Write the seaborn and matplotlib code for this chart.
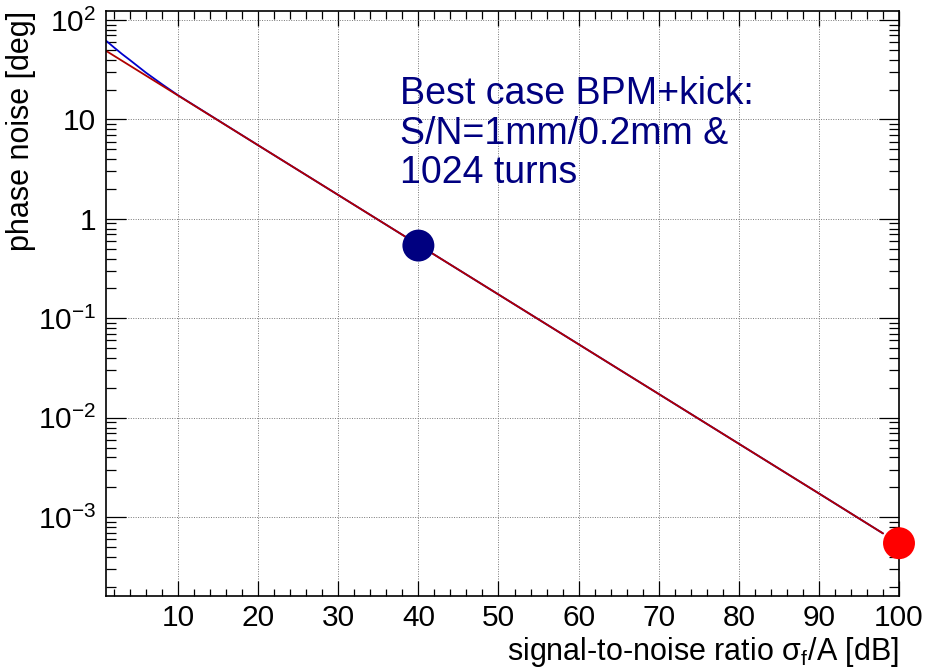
import numpy as np
import pandas as pd
import seaborn as sns
import matplotlib
matplotlib.use("Agg")
import matplotlib.pyplot as plt
from matplotlib.ticker import FixedLocator, FixedFormatter, MultipleLocator, LogLocator, NullFormatter

# values
snr_red = [1, 10, 20, 30, 40, 50, 60, 70, 80, 90, 98]
noise_red = [49.0, 17.4, 5.5, 1.74, 0.55, 0.174, 0.055, 0.0174, 0.0055, 0.00174, 0.00069]

snr_blue = [1, 2, 3, 4, 6, 8, 10, 20, 30, 40, 50, 60, 70, 80, 90, 98]
noise_blue = [62.0, 53.0, 45.5, 39.5, 29.5, 22.6, 17.5, 5.5, 1.74, 0.55, 0.174, 0.055, 0.0174, 0.0055, 0.00174, 0.00069]

pt_snr = [40, 100]
pt_noise = [0.54, 0.00055]
pt_names = ["BPM+kick", "limit"]

y_ticks = [1e-3, 1e-2, 1e-1, 1, 10, 100]
y_tick_labels = ["$10^{-3}$", "$10^{-2}$", "$10^{-1}$", "1", "10", "$10^{2}$"]

note = "Best case BPM+kick:\nS/N=1mm/0.2mm &\n1024 turns"

sns.set_style("ticks")
plt.rcParams["font.family"] = ["Liberation Sans", "DejaVu Sans"]
plt.rcParams["mathtext.fontset"] = "custom"
plt.rcParams["mathtext.rm"] = "Liberation Sans"
plt.rcParams["mathtext.it"] = "Liberation Sans:italic"
plt.rcParams["mathtext.default"] = "regular"
plt.rcParams["text.color"] = "black"
plt.rcParams["axes.labelcolor"] = "black"

df_red = pd.DataFrame({"snr": snr_red, "noise": noise_red})
df_blue = pd.DataFrame({"snr": snr_blue, "noise": noise_blue})
df_pts = pd.DataFrame({"snr": pt_snr, "noise": pt_noise, "name": pt_names})

fig = plt.figure(figsize=(9.25, 6.69), dpi=100, facecolor="white")
ax = fig.add_axes([106 / 925, 1 - 596 / 669, 793 / 925, 585.5 / 669])

sns.lineplot(data=df_blue, x="snr", y="noise", ax=ax, color="#0000cc", lw=1.3)
sns.lineplot(data=df_red, x="snr", y="noise", ax=ax, color="#b00000", lw=1.3)
sns.scatterplot(data=df_pts, x="snr", y="noise", hue="name",
                palette=["#000080", "#ff0000"], s=23 ** 2, linewidth=0,
                legend=False, ax=ax, zorder=5, clip_on=False)

ax.set_yscale("log")
ax.set_xlim(1, 100)
ax.set_ylim(1.62e-4, 124.6)

ax.xaxis.set_major_locator(MultipleLocator(10))
ax.xaxis.set_minor_locator(MultipleLocator(2))
ax.yaxis.set_major_locator(FixedLocator(y_ticks))
ax.yaxis.set_major_formatter(FixedFormatter(y_tick_labels))
ax.yaxis.set_minor_locator(LogLocator(base=10, subs=np.arange(2, 10)))
ax.yaxis.set_minor_formatter(NullFormatter())

ax.grid(True, which="major", linestyle=(0, (1, 1.5)), color="#777777", lw=0.7)

ax.tick_params(axis="both", which="both", direction="in", top=True, right=True,
               labelsize=21.5, color="black", labelcolor="black", width=0.9)
ax.tick_params(axis="x", which="major", length=10.8, pad=6)
ax.tick_params(axis="x", which="minor", length=5.4)
ax.tick_params(axis="y", which="major", length=14.4, pad=7)
ax.tick_params(axis="y", which="minor", length=7.2)
for sp in ax.spines.values():
    sp.set_linewidth(1.2)
    sp.set_color("black")

ax.set_xlabel(r"signal-to-noise ratio $\sigma_f$/A [dB]", fontsize=22, loc="right")
ax.set_ylabel("phase noise [deg]", fontsize=22, loc="top")
ax.xaxis.set_label_coords(1.0, -0.067)
ax.yaxis.set_label_coords(-0.088, 1.0)

ax.text(0.371, 0.705, note, transform=ax.transAxes, fontsize=27, color="#000080",
        ha="left", va="baseline", linespacing=1.13)

fig.savefig("out.png", dpi=100)
